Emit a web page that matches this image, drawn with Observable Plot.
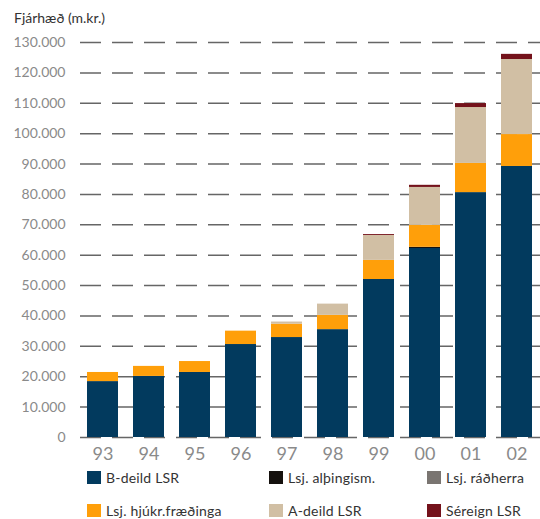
<!DOCTYPE html>
<html>
<head>
<meta charset="utf-8">
<script src="https://cdn.jsdelivr.net/npm/d3@7"></script>
<script src="https://cdn.jsdelivr.net/npm/@observablehq/plot@0.6"></script>
<style>
  body { margin: 0; background: #fff; font-family: Lato, "Open Sans", sans-serif; }
  #wrap { position: relative; width: 540px; height: 519px; }
  #title { position: absolute; left: 14px; top: 9px; font-size: 14px; color: #333; }
  #chart { position: absolute; left: 0; top: 30px; }
  .lg { position: absolute; font-size: 14px; color: #333; display: flex; align-items: center; white-space: nowrap; letter-spacing: 0.2px; }
  .sw { width: 14px; height: 13px; margin-right: 5px; }
</style>
</head>
<body>
<div id="wrap">
  <div id="title">Fjárhæð (m.kr.)</div>
  <div id="chart"></div>
  <div id="legend"></div>
</div>
<script>
const years = ["93","94","95","96","97","98","99","00","01","02"];
const series = ["B-deild LSR","Lsj. alþingism.","Lsj. ráðherra","Lsj. hjúkr.fræðinga","A-deild LSR","Séreign LSR"];
const colors = ["#023a5e","#15110e","#7a7571","#ff9f0a","#d1bfa4","#74121b"];
const bDeild     = [18400,20100,21400,30600,32900,35500,52000,62200,80600,89200];
const althingism = [0,0,0,0,0,0,0,400,0,0];
const radherra   = [0,0,0,0,0,0,0,0,0,0];
const hjukr      = [3000,3300,3600,4400,4400,4700,6300,7200,9600,10500];
const aDeild     = [0,0,0,0,700,3700,8200,12500,18400,24700];
const sereign    = [0,0,0,0,0,0,300,700,1300,1700];
const yTicks = [0,10000,20000,30000,40000,50000,60000,70000,80000,90000,100000,110000,120000,130000];

const valuesBySeries = [bDeild, althingism, radherra, hjukr, aDeild, sereign];
const data = [];
series.forEach((s, si) => {
  years.forEach((y, yi) => {
    data.push({year: y, series: s, value: valuesBySeries[si][yi]});
  });
});

const fmt = v => v === 0 ? "0" : d3.format(",")(v).replace(/,/g, ".");

const chart = Plot.plot({
  width: 540,
  height: 437,
  marginTop: 12,
  marginBottom: 30,
  marginLeft: 80,
  marginRight: 0,
  style: {fontFamily: "Lato, 'Open Sans', sans-serif", background: "transparent"},
  x: {domain: years, range: [77, 542], paddingInner: 0.33, paddingOuter: 0.17, label: null, tickSize: 0, tickPadding: 10},
  y: {domain: [0, 130000], ticks: yTicks, tickFormat: fmt, label: null, tickSize: 0, tickPadding: 15},
  color: {domain: series, range: colors},
  marks: [
    Plot.ruleY(yTicks, {stroke: "#666", strokeWidth: 1.5, strokeDasharray: "21,11"}),
    Plot.barY(data, Plot.stackY({order: series}, {x: "year", y: "value", fill: "series", z: "series"})),
    Plot.axisY({ticks: yTicks, tickFormat: fmt, tickSize: 0, tickPadding: 15, fontSize: 14, fill: "#8a8a8a", label: null}),
    Plot.axisX({tickSize: 0, tickPadding: 10, fontSize: 18, fill: "#8a8a8a", label: null})
  ]
});
document.getElementById("chart").appendChild(chart);

const legendPos = [
  {x: 87, y: 471}, {x: 269, y: 471}, {x: 427, y: 471},
  {x: 87, y: 504}, {x: 269, y: 504}, {x: 427, y: 504}
];
const lg = document.getElementById("legend");
series.forEach((s, i) => {
  const d = document.createElement("div");
  d.className = "lg";
  d.style.left = legendPos[i].x + "px";
  d.style.top = legendPos[i].y + "px";
  d.style.height = "13px";
  d.innerHTML = `<div class="sw" style="background:${colors[i]}"></div><span>${s}</span>`;
  lg.appendChild(d);
});
</script>
</body>
</html>
